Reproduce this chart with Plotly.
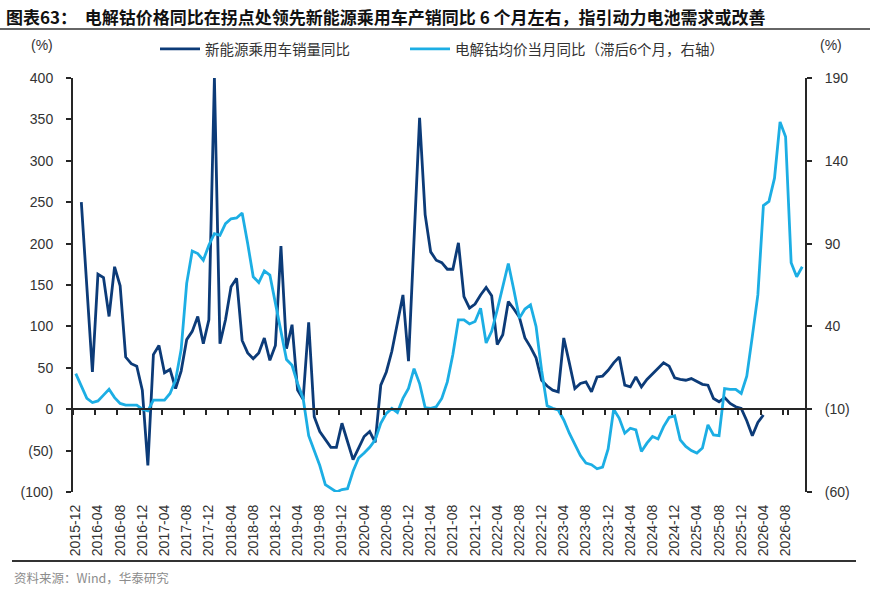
import plotly.graph_objects as go

# ---------------- data ----------------
months = []
y, m = 2015, 12
for _ in range(132):
    months.append(f"{y}-{m:02d}")
    m += 1
    if m > 12:
        m = 1
        y += 1

# 新能源乘用车销量同比 (%), 2016-01 .. 2026-04
nev_sales_yoy = [
    250, 148, 45, 163, 159, 112, 172, 149, 63, 55, 52, 23,
    -68, 66, 77, 44, 48, 25, 46, 84, 94, 112, 79, 108,
    400, 79, 108, 148, 158, 83, 68, 61, 68, 86, 59, 77,
    197, 73, 102, 23, 12, 105, -9, -27, -37, -46, -46, -17,
    -39, -61, -47, -33, -27, -40, 29, 45, 70, 104, 138, 58,
    200, 352, 235, 190, 180, 177, 169, 169, 201, 136, 122, 127,
    138, 147, 137, 78, 90, 130, 121, 111, 86, 75, 62, 35,
    28, 23, 21, 86, 56, 25, 31, 33, 21, 39, 40, 47,
    56, 63, 29, 27, 39, 27, 36, 43, 50, 56, 52, 38,
    36, 35, 37, 34, 30, 29, 13, 9, 14, 7, 3, 1,
    -14, -32, -16, -7,
]
nev_months = months[1:1 + len(nev_sales_yoy)]

# 电解钴均价当月同比 (滞后6个月, 右轴) (%), 2015-12 .. 2026-11
cobalt_yoy = [
    11.5, 4.5, -3.5, -6, -5, -1.5, 2, -3, -6.5, -7.5, -7.5, -7.5,
    -10, -11, -4.5, -4.5, -4.5, -0.5, 7.5, 26, 66, 85.5, 84, 80,
    89, 96, 95, 102, 105, 105.5, 108.5, 90, 70, 66.5, 73.5, 71,
    53, 37, 20, 16.5, 5.5, -3.5, -26, -35.5, -44, -55.5, -57.5, -60,
    -58.5, -58, -47.5, -39.5, -36.5, -33, -28.5, -18.5, -12.5, -9.5, -12, -3.5,
    2.5, 14.5, 5.5, -9, -9.5, -8.5, -3.5, 6.5, 23, 44, 44, 41.5,
    43, 51, 30, 37, 50, 64, 78, 62, 45, 50.5, 53, 40,
    13.5, -8, -9.5, -10.5, -16.5, -24.5, -31, -38, -42.5, -43.5, -46, -45,
    -34, -10, -15.5, -24.5, -21.5, -22.5, -35.5, -30.5, -26.5, -28, -20.5, -15,
    -14, -28.5, -32.5, -35, -36.5, -33.5, -19.5, -25.5, -26, 2.5, 2, 2,
    -0.5, 10, 34, 59, 113, 115.5, 129.5, 163.5, 154.5, 78.5, 70, 76,
]
cobalt_months = months[:len(cobalt_yoy)]

tick_months = months[0:129:4]
left_ticks = [-100, -50, 0, 50, 100, 150, 200, 250, 300, 350, 400]
right_ticks = [-60, -10, 40, 90, 140, 190]


def fmt(v):
    return f"({abs(v)})" if v < 0 else str(v)


# ---------------- layout helpers ----------------
W, H = 870, 589
ML, MR, MT, MB = 73, 65, 78, 97
PW, PH = W - ML - MR, H - MT - MB


def px_x(x):
    return (x - ML) / PW


def px_y(yv):
    return (H - MB - yv) / PH


FONT = "Arial, 'Liberation Sans', 'Noto Sans CJK SC', sans-serif"
CJK = "'Noto Sans CJK SC', 'Liberation Sans', sans-serif"
DARK = "#0C3B78"
LIGHT = "#1CAEE4"
AX = "#262626"

fig = go.Figure()
fig.add_trace(go.Scatter(
    x=nev_months, y=nev_sales_yoy, mode="lines", name="新能源乘用车销量同比",
    line=dict(color=DARK, width=2.8), xaxis="x", yaxis="y", legend="legend"))
fig.add_trace(go.Scatter(
    x=cobalt_months, y=cobalt_yoy, mode="lines", name="电解钴均价当月同比（滞后6个月，右轴）",
    line=dict(color=LIGHT, width=2.8), xaxis="x", yaxis="y2", legend="legend2"))
# helper trace so the zero-line category axis exists
fig.add_trace(go.Scatter(
    x=months, y=[None] * len(months), mode="lines", showlegend=False,
    hoverinfo="skip", xaxis="x2", yaxis="y"))

legend_common = dict(orientation="h", y=px_y(49), xanchor="left", yanchor="middle",
                     font=dict(family=CJK, size=14.5, color="#333333"),
                     bgcolor="rgba(0,0,0,0)", itemwidth=40)

fig.update_layout(
    width=W, height=H,
    margin=dict(l=ML, r=MR, t=MT, b=MB, pad=0),
    paper_bgcolor="white", plot_bgcolor="white",
    font=dict(family=FONT, size=14, color="#333333"),
    showlegend=True,
    legend=dict(x=px_x(155), **legend_common),
    legend2=dict(x=px_x(405), **legend_common),
    xaxis=dict(type="category", categoryorder="array", categoryarray=months,
               range=[-0.5, len(months) - 0.5],
               tickmode="array", tickvals=tick_months, ticktext=tick_months,
               tickangle=-90, showline=False, ticks="", showgrid=False, zeroline=False,
               tickfont=dict(family=FONT, size=14, color="#333333"),
               ticklabelstandoff=9),
    xaxis2=dict(type="category", categoryorder="array", categoryarray=months,
                range=[-0.5, len(months) - 0.5], overlaying="x", anchor="free",
                position=(0 - left_ticks[0]) / (left_ticks[-1] - left_ticks[0]),
                tickmode="array", tickvals=tick_months, tickson="boundaries",
                showticklabels=False, ticks="outside", ticklen=5, tickwidth=1.5,
                tickcolor=AX, showline=True, linecolor=AX, linewidth=2,
                showgrid=False, zeroline=False),
    yaxis=dict(range=[-100, 400], tickmode="array", tickvals=left_ticks,
               ticktext=[fmt(v) for v in left_ticks],
               showline=True, linecolor=AX, linewidth=2, ticks="outside",
               ticklen=5, tickwidth=1.5, tickcolor=AX, showgrid=False, zeroline=False,
               tickfont=dict(family=FONT, size=14, color="#333333"),
               ticklabelstandoff=10),
    yaxis2=dict(range=[-60, 190], tickmode="array", tickvals=right_ticks,
                ticktext=[fmt(v) for v in right_ticks], overlaying="y", side="right",
                anchor="x", showline=True, linecolor=AX, linewidth=2, ticks="outside",
                ticklen=5, tickwidth=1.5, tickcolor=AX, showgrid=False, zeroline=False,
                tickfont=dict(family=FONT, size=14, color="#333333"),
                ticklabelstandoff=10),
)

annotations = [
    dict(text="<b>图表63：  电解钴价格同比在拐点处领先新能源乘用车产销同比 6 个月左右，指引动力电池需求或改善</b>",
         x=px_x(4), y=px_y(16), xanchor="left", yanchor="middle",
         font=dict(family=CJK, size=17, color="#111111")),
    dict(text="(%)", x=px_x(42), y=px_y(45), xanchor="center", yanchor="middle",
         font=dict(family=FONT, size=14, color="#333333")),
    dict(text="(%)", x=px_x(831), y=px_y(45), xanchor="center", yanchor="middle",
         font=dict(family=FONT, size=14, color="#333333")),
    dict(text="资料来源：Wind，华泰研究", x=px_x(12), y=px_y(577), xanchor="left",
         yanchor="middle", font=dict(family=CJK, size=12.5, color="#8c8c8c")),
]
for a in annotations:
    a.update(xref="paper", yref="paper", showarrow=False)
fig.update_layout(annotations=annotations)

fig.update_layout(shapes=[
    dict(type="line", xref="paper", yref="paper", x0=px_x(0), x1=px_x(870),
         y0=px_y(29), y1=px_y(29), line=dict(color="#333333", width=1.5)),
    dict(type="line", xref="paper", yref="paper", x0=px_x(12), x1=px_x(856),
         y0=px_y(561), y1=px_y(561), line=dict(color="#333333", width=2)),
])

fig.write_html("out.html")
